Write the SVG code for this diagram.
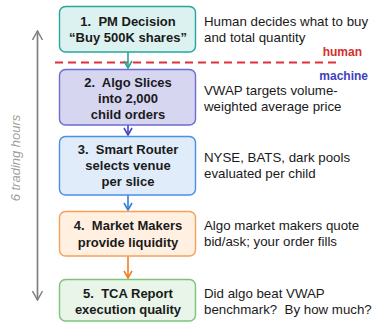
<svg xmlns="http://www.w3.org/2000/svg" width="372" height="323" viewBox="0 0 372 323">
<defs>
<style>
.box{stroke-width:1.4}
.t{font-family:"Liberation Sans",Arial,sans-serif;font-size:13px;font-weight:bold;fill:#1a1a1a;text-anchor:middle;dominant-baseline:central;white-space:pre}
.d{font-family:"Liberation Sans",Arial,sans-serif;font-size:13.3px;fill:#1a1a1a;dominant-baseline:central;white-space:pre}
.c{fill:none;stroke-width:1.6}
</style>
<marker id="aT" viewBox="0 0 10 10" refX="9" refY="5" markerWidth="10" markerHeight="10" markerUnits="userSpaceOnUse" orient="auto"><path d="M2,1 L9,5 L2,9" fill="none" stroke="#26a69a" stroke-width="1.6"/></marker>
<marker id="aV" viewBox="0 0 10 10" refX="9" refY="5" markerWidth="10" markerHeight="10" markerUnits="userSpaceOnUse" orient="auto"><path d="M2,1 L9,5 L2,9" fill="none" stroke="#4444c4" stroke-width="1.6"/></marker>
<marker id="aB" viewBox="0 0 10 10" refX="9" refY="5" markerWidth="10" markerHeight="10" markerUnits="userSpaceOnUse" orient="auto"><path d="M2,1 L9,5 L2,9" fill="none" stroke="#2f7fd8" stroke-width="1.6"/></marker>
<marker id="aO" viewBox="0 0 10 10" refX="9" refY="5" markerWidth="10" markerHeight="10" markerUnits="userSpaceOnUse" orient="auto"><path d="M2,1 L9,5 L2,9" fill="none" stroke="#f57c1f" stroke-width="1.6"/></marker>
<marker id="aG" viewBox="0 0 12 12" refX="11" refY="6" markerWidth="12" markerHeight="12" markerUnits="userSpaceOnUse" orient="auto-start-reverse"><path d="M2,1 L11,6 L2,11" fill="none" stroke="#808080" stroke-width="1.5"/></marker>
</defs>
<rect width="372" height="323" fill="#ffffff"/>

<g id="timeline">
<line x1="37.5" y1="31" x2="37.5" y2="300" stroke="#808080" stroke-width="1.7" marker-start="url(#aG)" marker-end="url(#aG)"/>
<text transform="translate(15,158) rotate(-90)" text-anchor="middle" dominant-baseline="central" font-family="Liberation Sans,Arial,sans-serif" font-size="13" font-style="italic" fill="#a0a0a0">6 trading hours</text>
</g>

<g id="divider">
<line x1="55" y1="62.5" x2="340" y2="62.5" stroke="#e0303a" stroke-width="2" stroke-dasharray="8,5"/>
<text x="362" y="52" text-anchor="end" dominant-baseline="central" font-family="Liberation Sans,Arial,sans-serif" font-size="12" font-weight="bold" fill="#d32f2f">human</text>
<text x="368" y="76" text-anchor="end" dominant-baseline="central" font-family="Liberation Sans,Arial,sans-serif" font-size="12" font-weight="bold" fill="#3f3fbf">machine</text>
</g>

<g id="connectors">
<line class="c" x1="128" y1="52" x2="128" y2="68" stroke="#26a69a" marker-end="url(#aT)"/>
<line class="c" x1="128" y1="125" x2="128" y2="135" stroke="#4444c4" marker-end="url(#aV)"/>
<line class="c" x1="128" y1="195" x2="128" y2="210" stroke="#2f7fd8" marker-end="url(#aB)"/>
<line class="c" x1="128" y1="256" x2="128" y2="278" stroke="#f57c1f" marker-end="url(#aO)"/>
</g>

<g id="n1">
<rect class="box" x="59.5" y="6.5" width="136" height="45.5" rx="6" fill="#dcf2f0" stroke="#26a69a"/>
<text class="t" x="128" y="21">1.  PM Decision</text>
<text class="t" x="128" y="37">“Buy 500K shares”</text>
<text class="d" x="204" y="21">Human decides what to buy</text>
<text class="d" x="204" y="37">and total quantity</text>
</g>

<g id="n2">
<rect class="box" x="59.5" y="69.5" width="136" height="55.5" rx="6" fill="#d6d6f1" stroke="#6d6dd0"/>
<text class="t" x="128" y="82">2.  Algo Slices</text>
<text class="t" x="128" y="98">into 2,000</text>
<text class="t" x="128" y="114">child orders</text>
<text class="d" x="204" y="90">VWAP targets volume-</text>
<text class="d" x="204" y="106">weighted average price</text>
</g>

<g id="n3">
<rect class="box" x="59.5" y="136.5" width="136" height="58.5" rx="6" fill="#e0ecfa" stroke="#4a90e2"/>
<text class="t" x="128" y="149">3.  Smart Router</text>
<text class="t" x="128" y="165">selects venue</text>
<text class="t" x="128" y="181">per slice</text>
<text class="d" x="204" y="157">NYSE, BATS, dark pools</text>
<text class="d" x="204" y="173">evaluated per child</text>
</g>

<g id="n4">
<rect class="box" x="59.5" y="211.5" width="136" height="44.5" rx="6" fill="#fff0e1" stroke="#f5a05a"/>
<text class="t" x="128" y="225">4.  Market Makers</text>
<text class="t" x="128" y="242">provide liquidity</text>
<text class="d" x="204" y="225">Algo market makers quote</text>
<text class="d" x="204" y="241">bid/ask; your order fills</text>
</g>

<g id="n5">
<rect class="box" x="59.5" y="279.5" width="136" height="41.5" rx="6" fill="#e8f5e8" stroke="#7cc47c"/>
<text class="t" x="128" y="293">5.  TCA Report</text>
<text class="t" x="128" y="309">execution quality</text>
<text class="d" x="204" y="293">Did algo beat VWAP</text>
<text class="d" x="204" y="309">benchmark?  By how much?</text>
</g>
</svg>
